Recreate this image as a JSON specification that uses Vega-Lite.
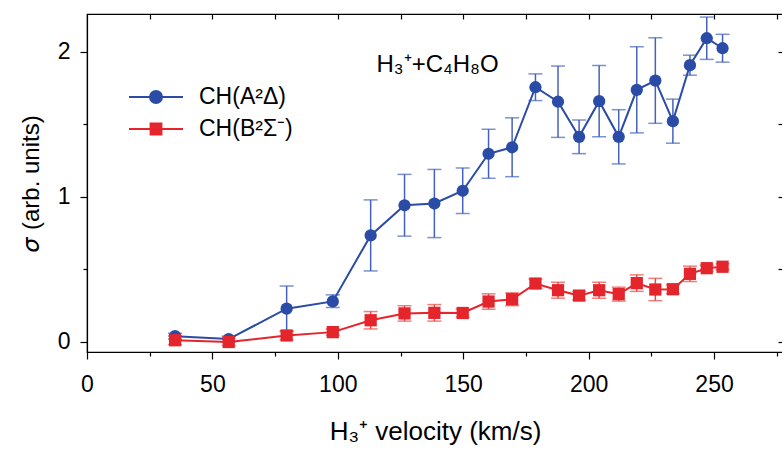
{
  "$schema": "https://vega.github.io/schema/vega-lite/v6.json",
  "width": 696,
  "height": 338,
  "autosize": "none",
  "padding": {"left": 87, "top": 14, "right": 0, "bottom": 98},
  "background": "white",
  "datasets": {
    "pts": [
      {"v": 35.1, "series": "CH(A²Δ)", "sigma": 0.04, "lo": 0.02, "hi": 0.06},
      {"v": 56.5, "series": "CH(A²Δ)", "sigma": 0.02, "lo": 0.0, "hi": 0.04},
      {"v": 79.6, "series": "CH(A²Δ)", "sigma": 0.23, "lo": 0.074, "hi": 0.386},
      {"v": 98.0, "series": "CH(A²Δ)", "sigma": 0.28, "lo": 0.238, "hi": 0.325},
      {"v": 113.1, "series": "CH(A²Δ)", "sigma": 0.735, "lo": 0.49, "hi": 0.98},
      {"v": 126.6, "series": "CH(A²Δ)", "sigma": 0.943, "lo": 0.73, "hi": 1.156},
      {"v": 138.5, "series": "CH(A²Δ)", "sigma": 0.955, "lo": 0.72, "hi": 1.19},
      {"v": 149.8, "series": "CH(A²Δ)", "sigma": 1.043, "lo": 0.886, "hi": 1.2},
      {"v": 160.1, "series": "CH(A²Δ)", "sigma": 1.298, "lo": 1.129, "hi": 1.467},
      {"v": 169.5, "series": "CH(A²Δ)", "sigma": 1.343, "lo": 1.14, "hi": 1.546},
      {"v": 178.8, "series": "CH(A²Δ)", "sigma": 1.757, "lo": 1.665, "hi": 1.849},
      {"v": 187.8, "series": "CH(A²Δ)", "sigma": 1.657, "lo": 1.411, "hi": 1.903},
      {"v": 196.2, "series": "CH(A²Δ)", "sigma": 1.415, "lo": 1.299, "hi": 1.531},
      {"v": 204.2, "series": "CH(A²Δ)", "sigma": 1.661, "lo": 1.415, "hi": 1.907},
      {"v": 212.0, "series": "CH(A²Δ)", "sigma": 1.415, "lo": 1.228, "hi": 1.602},
      {"v": 219.2, "series": "CH(A²Δ)", "sigma": 1.739, "lo": 1.442, "hi": 2.036},
      {"v": 226.6, "series": "CH(A²Δ)", "sigma": 1.803, "lo": 1.508, "hi": 2.098},
      {"v": 233.6, "series": "CH(A²Δ)", "sigma": 1.523, "lo": 1.371, "hi": 1.675},
      {"v": 240.4, "series": "CH(A²Δ)", "sigma": 1.909, "lo": 1.84, "hi": 1.978},
      {"v": 247.1, "series": "CH(A²Δ)", "sigma": 2.095, "lo": 1.949, "hi": 2.241},
      {"v": 253.4, "series": "CH(A²Δ)", "sigma": 2.026, "lo": 1.93, "hi": 2.122},
      {"v": 35.1, "series": "CH(B²Σ⁻)", "sigma": 0.012, "lo": -0.018, "hi": 0.042},
      {"v": 56.5, "series": "CH(B²Σ⁻)", "sigma": 0.0, "lo": -0.025, "hi": 0.025},
      {"v": 79.6, "series": "CH(B²Σ⁻)", "sigma": 0.045, "lo": 0.015, "hi": 0.075},
      {"v": 98.0, "series": "CH(B²Σ⁻)", "sigma": 0.068, "lo": 0.046, "hi": 0.09},
      {"v": 113.1, "series": "CH(B²Σ⁻)", "sigma": 0.15, "lo": 0.09, "hi": 0.21},
      {"v": 126.6, "series": "CH(B²Σ⁻)", "sigma": 0.197, "lo": 0.144, "hi": 0.25},
      {"v": 138.5, "series": "CH(B²Σ⁻)", "sigma": 0.201, "lo": 0.144, "hi": 0.258},
      {"v": 149.8, "series": "CH(B²Σ⁻)", "sigma": 0.2, "lo": 0.172, "hi": 0.228},
      {"v": 160.1, "series": "CH(B²Σ⁻)", "sigma": 0.279, "lo": 0.226, "hi": 0.332},
      {"v": 169.5, "series": "CH(B²Σ⁻)", "sigma": 0.295, "lo": 0.251, "hi": 0.339},
      {"v": 178.8, "series": "CH(B²Σ⁻)", "sigma": 0.403, "lo": 0.371, "hi": 0.435},
      {"v": 187.8, "series": "CH(B²Σ⁻)", "sigma": 0.357, "lo": 0.302, "hi": 0.412},
      {"v": 196.2, "series": "CH(B²Σ⁻)", "sigma": 0.32, "lo": 0.29, "hi": 0.35},
      {"v": 204.2, "series": "CH(B²Σ⁻)", "sigma": 0.357, "lo": 0.302, "hi": 0.412},
      {"v": 212.0, "series": "CH(B²Σ⁻)", "sigma": 0.33, "lo": 0.282, "hi": 0.378},
      {"v": 219.2, "series": "CH(B²Σ⁻)", "sigma": 0.406, "lo": 0.349, "hi": 0.463},
      {"v": 226.6, "series": "CH(B²Σ⁻)", "sigma": 0.362, "lo": 0.285, "hi": 0.439},
      {"v": 233.6, "series": "CH(B²Σ⁻)", "sigma": 0.364, "lo": 0.334, "hi": 0.394},
      {"v": 240.4, "series": "CH(B²Σ⁻)", "sigma": 0.47, "lo": 0.417, "hi": 0.523},
      {"v": 247.1, "series": "CH(B²Σ⁻)", "sigma": 0.509, "lo": 0.489, "hi": 0.529},
      {"v": 253.4, "series": "CH(B²Σ⁻)", "sigma": 0.519, "lo": 0.499, "hi": 0.539}
    ],
    "label": [{"text": "H₃⁺+C₄H₈O", "v": 139.8, "sigma": 1.864}]
  },
  "data": {"name": "pts"},
  "layer": [
    {
      "mark": {"type": "errorbar", "ticks": {"size": 14, "thickness": 1.5}, "rule": {"strokeWidth": 1.5}},
      "encoding": {
        "x": {"field": "v", "type": "quantitative",
              "scale": {"domain": [0, 277.5], "nice": false, "zero": false},
              "axis": {"orient": "bottom", "values": [0, 50, 100, 150, 200, 250], "tickSize": 7, "labelFontSize": 23, "labelPadding": 14,
                       "title": "H₃⁺ velocity (km/s)", "titleFontSize": 26, "titlePadding": 22, "labelFlush": false, "labelOverlap": false}},
        "y": {"field": "lo", "type": "quantitative",
              "scale": {"domain": [-0.069, 2.262], "nice": false, "zero": false},
              "axis": {"orient": "left", "values": [0, 1, 2], "tickSize": 7, "labelFontSize": 23, "labelPadding": 10,
                       "title": "𝜎 (arb. units)", "titleFontSize": 24, "titlePadding": 14, "labelFlush": false}},
        "y2": {"field": "hi"},
        "color": {"field": "series", "type": "nominal",
                  "scale": {"domain": ["CH(A²Δ)", "CH(B²Σ⁻)"], "range": ["#4462bd", "#ea4a45"]},
                  "legend": null}
      }
    },
    {
      "mark": {"type": "line", "strokeWidth": 2},
      "encoding": {
        "x": {"field": "v", "type": "quantitative",
              "scale": {"domain": [0, 277.5], "nice": false, "zero": false},
              "axis": {"orient": "bottom", "values": [25, 75, 125, 175, 225, 275], "tickSize": 4, "labels": false, "domain": false, "title": null}},
        "y": {"field": "sigma", "type": "quantitative",
              "scale": {"domain": [-0.069, 2.262], "nice": false, "zero": false},
              "axis": {"orient": "left", "values": [0.5, 1.5], "tickSize": 4, "labels": false, "domain": false, "title": null}},
        "color": {"field": "series", "type": "nominal",
                  "scale": {"domain": ["CH(A²Δ)", "CH(B²Σ⁻)"], "range": ["#2b4ca6", "#e4252b"]},
                  "legend": null}
      }
    },
    {
      "mark": {"type": "point", "filled": true, "opacity": 1, "size": 150},
      "encoding": {
        "x": {"field": "v", "type": "quantitative",
              "scale": {"domain": [0, 277.5], "nice": false, "zero": false},
              "axis": {"orient": "top", "values": [25, 50, 75, 100, 125, 150, 175, 200, 225, 250, 275], "tickSize": -5, "labels": false, "domain": false, "title": null}},
        "y": {"field": "sigma", "type": "quantitative",
              "scale": {"domain": [-0.069, 2.262], "nice": false, "zero": false},
              "axis": {"orient": "right", "values": [0, 0.5, 1, 1.5, 2], "tickSize": -5, "labels": false, "domain": false, "title": null}},
        "color": {"field": "series", "type": "nominal",
                  "scale": {"domain": ["CH(A²Δ)", "CH(B²Σ⁻)"], "range": ["#2b4ca6", "#e4252b"]},
                  "legend": null},
        "shape": {"field": "series", "type": "nominal",
                  "scale": {"domain": ["CH(A²Δ)", "CH(B²Σ⁻)"], "range": ["circle", "square"]},
                  "legend": null}
      }
    },
    {
      "transform": [{"filter": "datum.v < 0"}],
      "mark": {"type": "point", "filled": true},
      "encoding": {
        "x": {"field": "v", "type": "quantitative", "scale": {"domain": [0, 277.5], "nice": false, "zero": false}, "axis": null},
        "y": {"field": "sigma", "type": "quantitative", "scale": {"domain": [-0.069, 2.262], "nice": false, "zero": false}, "axis": null},
        "color": {"field": "series", "type": "nominal",
                  "scale": {"domain": ["CH(A²Δ)", "CH(B²Σ⁻)"], "range": ["#2b4ca6", "#e4252b"]},
                  "legend": {"title": null, "orient": "none", "legendX": 53, "legendY": 67, "padding": 0,
                             "symbolSize": 900, "symbolStrokeWidth": 2, "labelFontSize": 23, "labelOffset": 27, "rowPadding": 4,
                             "labelColor": "black", "labelFont": "Liberation Sans", "symbolOpacity": 1}},
        "stroke": {"field": "series", "type": "nominal",
                  "scale": {"domain": ["CH(A²Δ)", "CH(B²Σ⁻)"], "range": ["#2b4ca6", "#e4252b"]},
                  "legend": {"title": null, "orient": "none", "legendX": 53, "legendY": 67, "padding": 0,
                             "symbolSize": 900, "symbolStrokeWidth": 2, "labelFontSize": 23, "labelOffset": 27, "rowPadding": 4,
                             "labelColor": "black", "labelFont": "Liberation Sans", "symbolOpacity": 1}},
        "shape": {"field": "series", "type": "nominal",
                  "scale": {"domain": ["CH(A²Δ)", "CH(B²Σ⁻)"],
                            "range": ["M-1.8,0H1.8M-0.4,0A0.4,0.4 0 1,1 0.4,0A0.4,0.4 0 1,1 -0.4,0Z", "M-1.8,0H1.8M-0.36,-0.36H0.36V0.36H-0.36Z"]},
                  "legend": {"title": null, "orient": "none", "legendX": 53, "legendY": 67, "padding": 0,
                             "symbolSize": 900, "symbolStrokeWidth": 2, "labelFontSize": 23, "labelOffset": 27, "rowPadding": 4,
                             "labelColor": "black", "labelFont": "Liberation Sans", "symbolOpacity": 1}}
      }
    },
    {
      "data": {"name": "label"},
      "mark": {"type": "text", "fontSize": 24, "font": "Liberation Sans", "align": "center", "baseline": "alphabetic", "color": "black"},
      "encoding": {
        "x": {"field": "v", "type": "quantitative", "scale": {"domain": [0, 277.5], "nice": false, "zero": false}, "axis": null},
        "y": {"field": "sigma", "type": "quantitative", "scale": {"domain": [-0.069, 2.262], "nice": false, "zero": false}, "axis": null},
        "text": {"field": "text"}
      }
    }
  ],
  "resolve": {"axis": {"x": "independent", "y": "independent"}, "scale": {"color": "independent", "shape": "independent", "stroke": "independent"}},
  "config": {
    "font": "Liberation Sans",
    "axis": {"domainColor": "black", "tickColor": "black", "labelColor": "black", "titleColor": "black",
             "labelFont": "Liberation Sans", "titleFont": "Liberation Sans", "titleFontWeight": "normal",
             "grid": false, "domainWidth": 1.2, "tickWidth": 1.2},
    "view": {"stroke": "black", "strokeWidth": 1.2}
  }
}
